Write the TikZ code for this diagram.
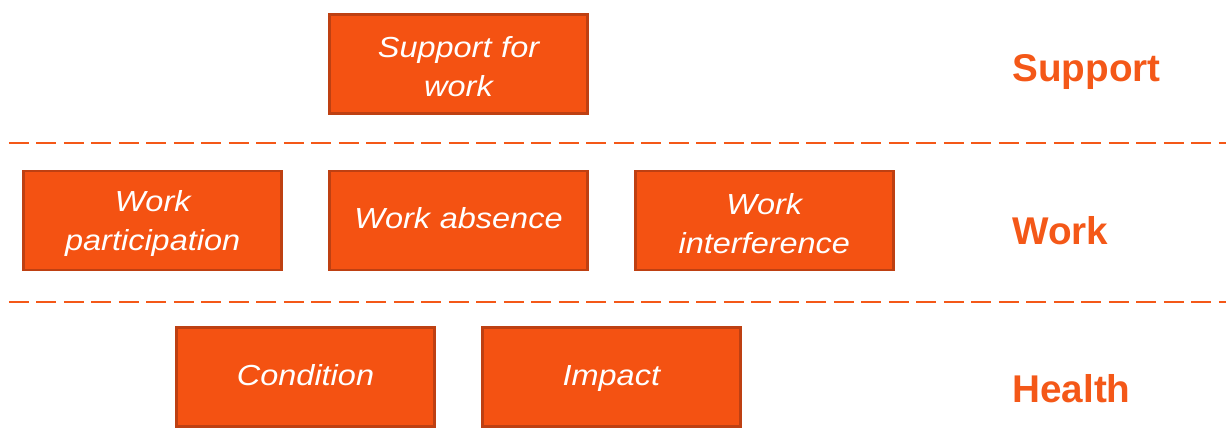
\documentclass[tikz,border=0pt]{standalone}
\usepackage{fontspec}
\setmainfont{Liberation Sans}
\newfontfamily\boxfont[FakeStretch=1.12]{Liberation Sans}
\usepackage{xcolor}
\usetikzlibrary{positioning}

\definecolor{boxfill}{RGB}{244,82,18}
\definecolor{boxline}{RGB}{190,64,18}
\definecolor{labelcol}{RGB}{244,88,24}

\tikzset{
  factor/.style={draw=boxline, line width=1.6pt, fill=boxfill, rectangle,
    minimum width=5.16cm, minimum height=1.98cm, text width=4.9cm, align=center,
    text=white, font=\boxfont\fontsize{16.5}{22}\selectfont\itshape,
    execute at begin node=\strut},
  level/.style={anchor=base west, inner sep=0pt, text=labelcol,
    font=\fontsize{22}{26}\selectfont\bfseries},
  divider/.style={draw=labelcol, line width=1.5pt, dash pattern=on 0.4cm off 0.15cm}
}

\begin{document}
\begin{tikzpicture}[node distance=0.9cm]
\useasboundingbox (-9.17,-4.17) rectangle (15.35,4.41);

\node (absence) [factor] at (0,0) {Work absence};
\node (participation) [factor, left=of absence] {Work\\participation};
\node (interference) [factor, right=of absence] {Work\\interference};
\node (support) [factor, above=1.1cm of absence] {Support for\\work};
\node (condition) [factor, below=1.1cm of absence, xshift=-3.06cm] {Condition};
\node (impact) [factor, right=of condition] {Impact};

\node (lsupport) [level] at (11.07,2.77) {Support};
\node (lwork) [level] at (11.07,-0.49) {Work};
\node (lhealth) [level] at (11.07,-3.63) {Health};

% dashed dividers between the rows
\coordinate (top-l) at (-8.99,1.55);
\coordinate (top-r) at (15.35,1.55);
\coordinate (bot-l) at (-8.99,-1.63);
\coordinate (bot-r) at (15.35,-1.63);
\draw [divider] (top-l) -- (top-r);
\draw [divider] (bot-l) -- (bot-r);
\end{tikzpicture}
\end{document}
